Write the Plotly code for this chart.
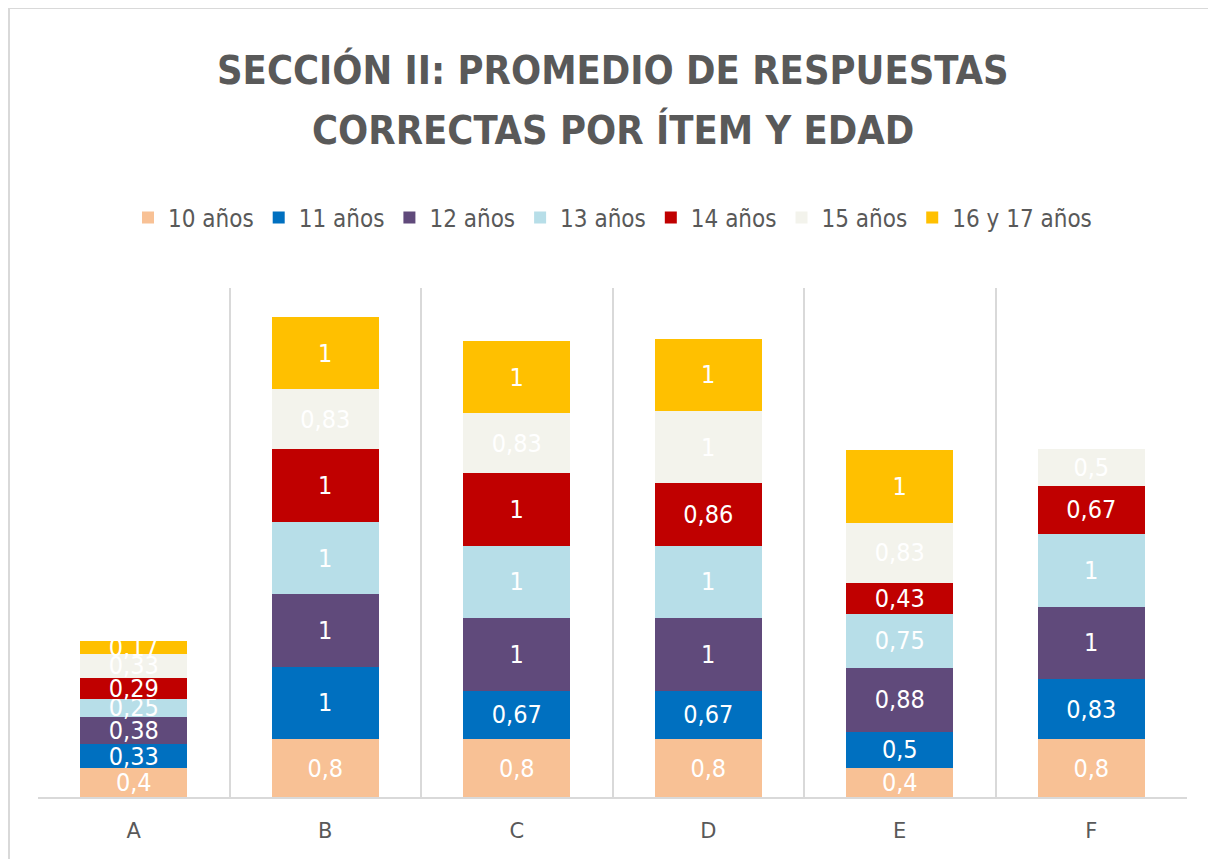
import plotly.graph_objects as go

categories = ["A", "B", "C", "D", "E", "F"]
series_names = ["10 años", "11 años", "12 años", "13 años", "14 años", "15 años", "16 y 17 años"]
v10 = [0.4, 0.8, 0.8, 0.8, 0.4, 0.8]
v11 = [0.33, 1, 0.67, 0.67, 0.5, 0.83]
v12 = [0.38, 1, 1, 1, 0.88, 1]
v13 = [0.25, 1, 1, 1, 0.75, 1]
v14 = [0.29, 1, 1, 0.86, 0.43, 0.67]
v15 = [0.33, 0.83, 0.83, 1, 0.83, 0.5]
v16 = [0.17, 1, 1, 1, 1, None]
colors = ["#F8C195", "#0070C0", "#604A7B", "#B7DEE8", "#C00000", "#F3F3EC", "#FFC000"]
title_lines = ["SECCIÓN II: PROMEDIO DE RESPUESTAS", "CORRECTAS POR ÍTEM Y EDAD"]

FONT = "DejaVu Sans Condensed, DejaVu Sans, sans-serif"
TICK_FONT = "DejaVu Sans, sans-serif"

fig = go.Figure()
for name, vals, col in zip(series_names, [v10, v11, v12, v13, v14, v15, v16], colors):
    fig.add_trace(go.Bar(
        x=categories, y=vals, name=name,
        marker=dict(color=col, line=dict(width=0)),
        texttemplate="%{y}", textposition="inside", insidetextanchor="middle",
        textangle=0, textfont=dict(color="white", size=25, family=FONT),
        cliponaxis=False,
    ))

# figure is placed in a page body with 8px margin
W, H = 1200, 851
L, R, T, B = 30, 21, 280, 62
PW, PH = W - L - R, H - T - B

def py(y_fig):
    return (H - B - y_fig) / PH

def px(x_fig):
    return (x_fig - L) / PW

annotations = []
for line, yc in zip(title_lines, [62, 122]):
    annotations.append(dict(
        text="<b>" + line + "</b>", x=0.5, xref="paper", y=py(yc), yref="paper",
        xanchor="center", yanchor="middle", showarrow=False,
        font=dict(family=FONT, size=39.5, color="#595959"),
    ))

fig.update_layout(
    barmode="stack", bargap=0.44,
    separators=", ",
    width=W, height=H,
    margin=dict(l=L, r=R, t=T, b=B),
    paper_bgcolor="white", plot_bgcolor="white",
    uniformtext=dict(minsize=25, mode="show"),
    annotations=annotations,
    legend=dict(
        orientation="h", x=0.5, xanchor="center", xref="paper",
        y=py(210), yanchor="middle", yref="paper",
        font=dict(family=FONT, size=24, color="#595959"),
        traceorder="normal", itemwidth=30,
    ),
    xaxis=dict(
        showgrid=True, gridcolor="#D9D9D9", gridwidth=2, tickson="boundaries",
        ticks="", showline=True, linecolor="#D9D9D9", linewidth=2,
        tickfont=dict(family=TICK_FONT, size=21, color="#595959"),
        ticklabelstandoff=14,
    ),
    yaxis=dict(range=[0, 7.03], showgrid=False, showticklabels=False, zeroline=False,
               showline=False),
    shapes=[dict(type="rect", xref="paper", yref="paper",
                 x0=px(1), x1=px(W + 40), y0=py(H + 40), y1=py(0),
                 line=dict(color="#D9D9D9", width=2), fillcolor="rgba(0,0,0,0)", layer="below")],
)

fig.write_html("out.html")
